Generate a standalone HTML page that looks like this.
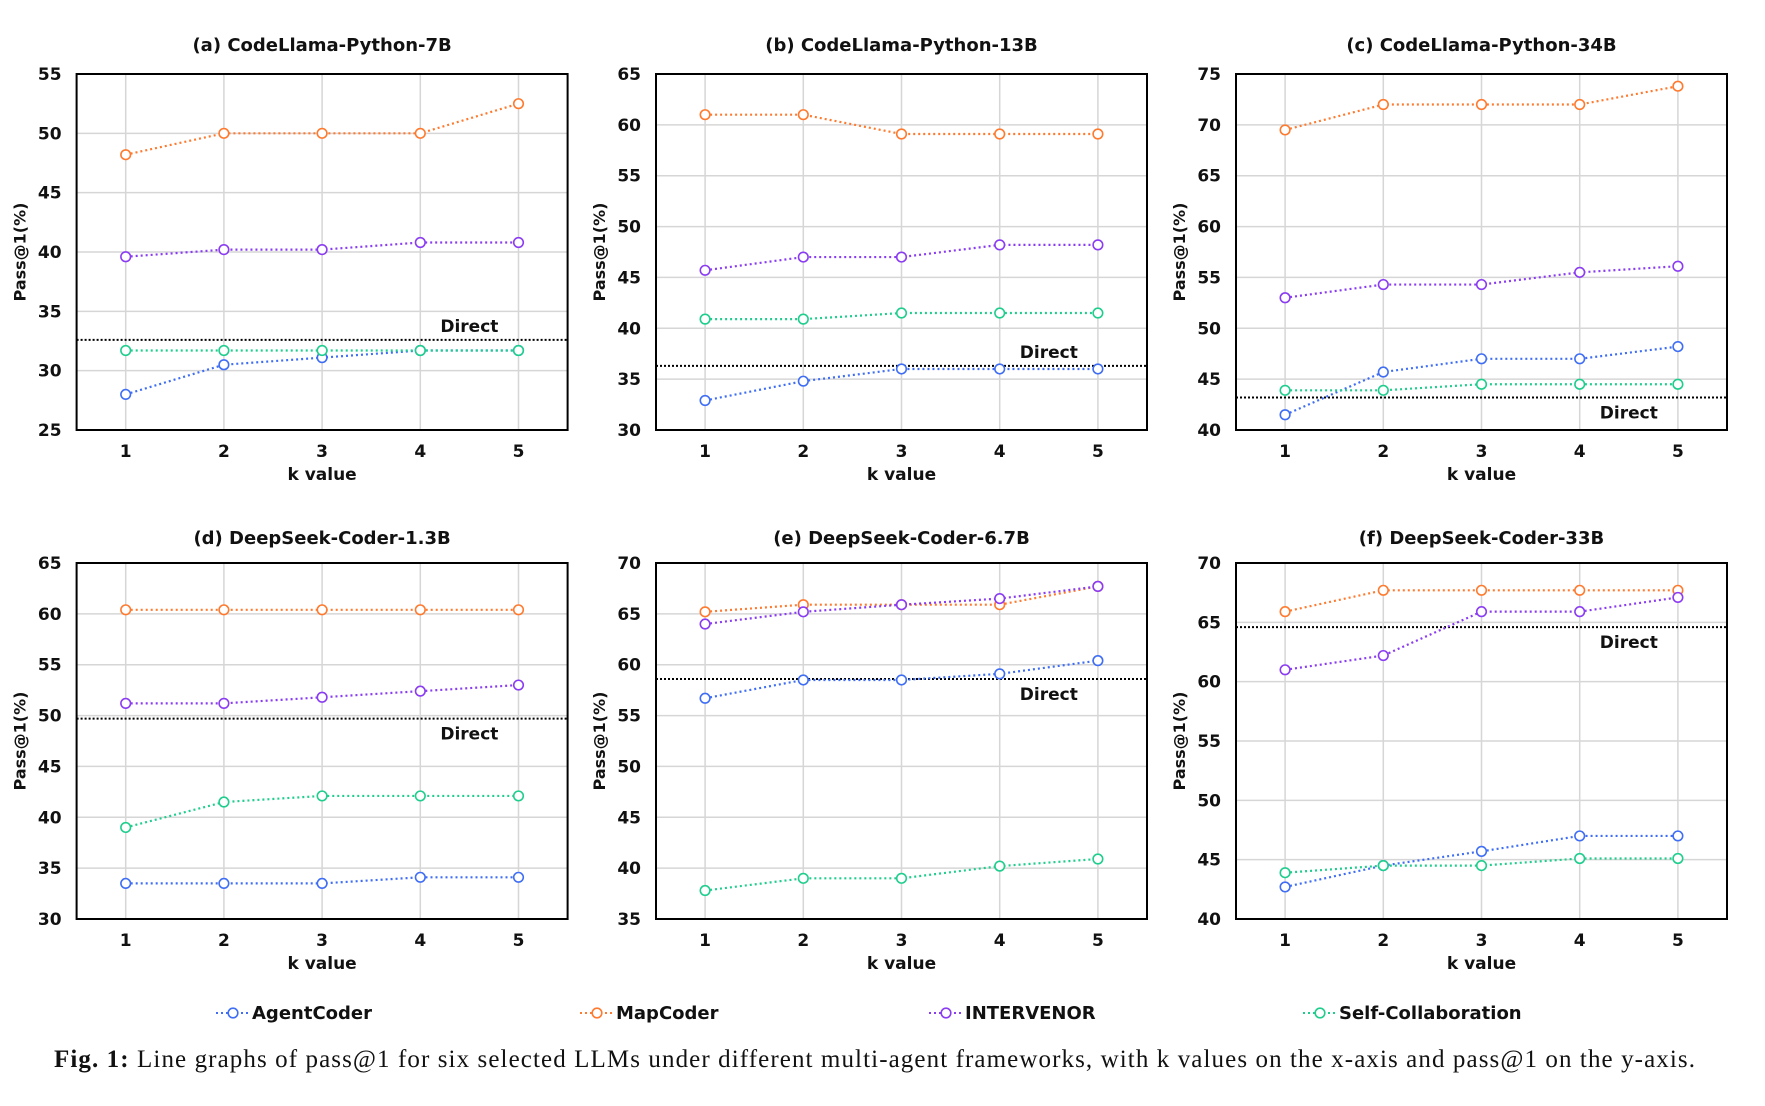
<!DOCTYPE html>
<html><head><meta charset="utf-8"><style>
body{margin:0;background:#fff;width:1765px;height:1101px;overflow:hidden}
svg text{font-family:"DejaVu Sans","Liberation Sans",sans-serif;font-weight:bold;fill:#111}
</style></head><body>
<svg id="fig" width="1765" height="1101" xmlns="http://www.w3.org/2000/svg"></svg>
<script>
const kValues=[1,2,3,4,5];
const panelTitles=["(a) CodeLlama-Python-7B","(b) CodeLlama-Python-13B","(c) CodeLlama-Python-34B","(d) DeepSeek-Coder-1.3B","(e) DeepSeek-Coder-6.7B","(f) DeepSeek-Coder-33B"];
const yMins=[25,30,40,30,35,40];
const yMaxs=[55,65,75,65,70,70];
const directValues=[32.6,36.3,43.2,49.7,58.6,64.6];
const directAbove=[true,true,false,false,false,false];
const agentCoder=[[28,30.5,31.1,31.7,31.7],[32.9,34.8,36,36,36],[41.5,45.7,47,47,48.2],[33.5,33.5,33.5,34.1,34.1],[56.7,58.5,58.5,59.1,60.4],[42.7,44.5,45.7,47,47]];
const mapCoder=[[48.2,50,50,50,52.5],[61,61,59.1,59.1,59.1],[69.5,72,72,72,73.8],[60.4,60.4,60.4,60.4,60.4],[65.2,65.9,65.9,65.9,67.7],[65.9,67.7,67.7,67.7,67.7]];
const intervenor=[[39.6,40.2,40.2,40.8,40.8],[45.7,47,47,48.2,48.2],[53,54.3,54.3,55.5,56.1],[51.2,51.2,51.8,52.4,53],[64,65.2,65.9,66.5,67.7],[61,62.2,65.9,65.9,67.1]];
const selfCollab=[[31.7,31.7,31.7,31.7,31.7],[40.9,40.9,41.5,41.5,41.5],[43.9,43.9,44.5,44.5,44.5],[39,41.5,42.1,42.1,42.1],[37.8,39,39,40.2,40.9],[43.9,44.5,44.5,45.1,45.1]];
const seriesNames=["AgentCoder","MapCoder","INTERVENOR","Self-Collaboration"];

const NS="http://www.w3.org/2000/svg";
const svg=document.getElementById('fig');
const colors=["#3f6ef5","#ff7a2e","#8a3cf2","#1fce8d"];
function mk(tag,attrs,parent){const e=document.createElementNS(NS,tag);for(const k in attrs)e.setAttribute(k,attrs[k]);(parent||svg).appendChild(e);return e;}
const colX=[76.6,656,1236];const rowY=[74,563];const W=491,H=356;
const titleOff=[23,19];
const allSeries=[agentCoder,mapCoder,intervenor,selfCollab];
for(let p=0;p<6;p++){
  const row=Math.floor(p/3);
  const bx=colX[p%3],by=rowY[row];
  const g=mk('g',{});
  
  
  const xs=k=>bx+(k-0.5)/5*W;
  const ys=v=>by+H-(v-yMins[p])/(yMaxs[p]-yMins[p])*H;
  for(let v=yMins[p];v<=yMaxs[p];v+=5){
    if(v>yMins[p]&&v<yMaxs[p])mk('line',{x1:bx,x2:bx+W,y1:ys(v),y2:ys(v),stroke:"#d6d6d6","stroke-width":1.5},g);
    const t=mk('text',{x:bx-15,y:ys(v)+6,"text-anchor":"end","font-size":17},g);t.textContent=v;
    
  }
  kValues.forEach(k=>{
    mk('line',{x1:xs(k),x2:xs(k),y1:by,y2:by+H,stroke:"#d6d6d6","stroke-width":1.5},g);
    const t=mk('text',{x:xs(k),y:by+H+27,"text-anchor":"middle","font-size":17},g);t.textContent=k;
    
  });
  const dy=ys(directValues[p]);
  const dl=mk('line',{x1:bx,x2:bx+W,y1:dy,y2:dy,stroke:"#000","stroke-width":2,"stroke-dasharray":"2,2"},g);
  
  const dt=mk('text',{x:bx+0.8*W,y:directAbove[p]?dy-8:dy+21,"text-anchor":"middle","font-size":17},g);dt.textContent="Direct";
  
  allSeries.forEach((s,si)=>{
    const vals=s[p];
    const pl=mk('polyline',{points:vals.map((v,i)=>xs(kValues[i])+","+ys(v)).join(" "),fill:"none",stroke:colors[si],"stroke-width":2.2,"stroke-dasharray":"2,3"},g);
    
    vals.forEach((v,i)=>{
      const c=mk('circle',{cx:xs(kValues[i]),cy:ys(v),r:4.8,fill:"#fff",stroke:colors[si],"stroke-width":1.6},g);
      
    });
  });
  const fr=mk('rect',{x:bx,y:by,width:W,height:H,fill:"none",stroke:"#000","stroke-width":2},g);
  
  const tt=mk('text',{x:bx+W/2,y:by-titleOff[row],"text-anchor":"middle","font-size":18},g);tt.textContent=panelTitles[p];
  
  const xt=mk('text',{x:bx+W/2,y:by+H+50,"text-anchor":"middle","font-size":17},g);xt.textContent="k value";
  
  const yt=mk('text',{x:0,y:0,"text-anchor":"middle","font-size":16,transform:`translate(${bx-51},${by+H/2}) rotate(-90)`},g);yt.textContent="Pass@1(%)";
  
}
const legX=[216,580,929,1303];
seriesNames.forEach((n,i)=>{
  const g=mk('g',{});
  
  
  mk('line',{x1:legX[i],x2:legX[i]+33,y1:1013,y2:1013,stroke:colors[i],"stroke-width":2,"stroke-dasharray":"2,3"},g);
  mk('circle',{cx:legX[i]+17,cy:1013,r:4.8,fill:"#fff",stroke:colors[i],"stroke-width":1.6},g);
  const t=mk('text',{x:legX[i]+36,y:1019,"font-size":18},g);t.textContent=n;
});
const cap=mk('text',{x:54,y:1067,"font-size":25,textLength:1641,lengthAdjust:"spacing"});


cap.setAttribute('style','font-family:"Liberation Serif",serif;font-weight:normal');
cap.innerHTML='<tspan font-weight="bold">Fig. 1:</tspan> Line graphs of pass@1 for six selected LLMs under different multi-agent frameworks, with k values on the x-axis and pass@1 on the y-axis.';
</script>
</body></html>
